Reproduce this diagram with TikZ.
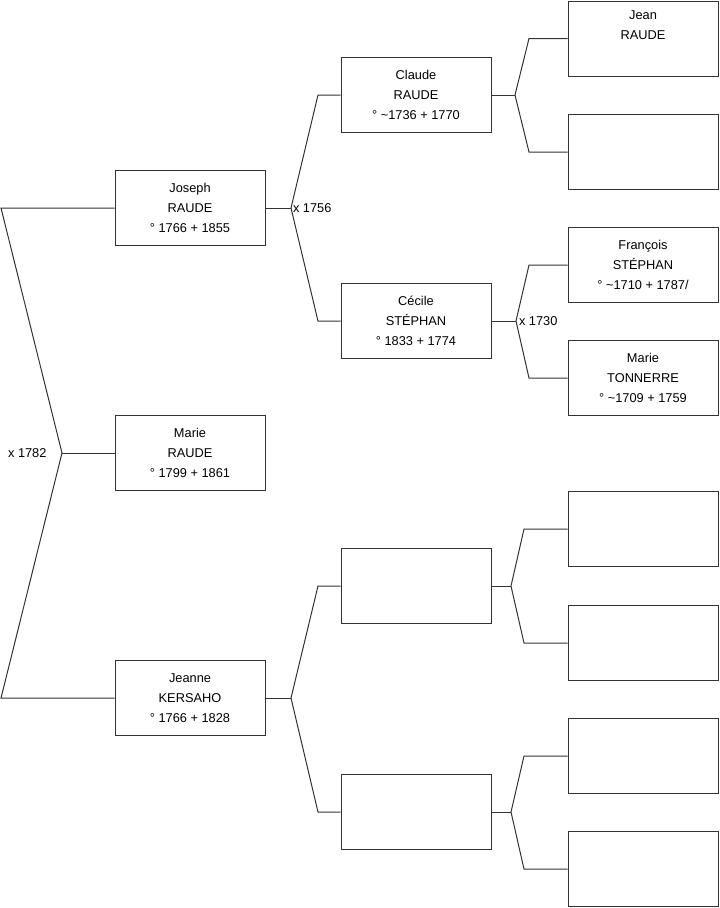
\documentclass[tikz,border=0pt]{standalone}
\usepackage{fontspec}
\setmainfont{Liberation Sans}
\begin{document}
\begin{tikzpicture}[x=0.75pt, y=-0.75pt, line width=0.75pt,
    person/.style={draw=black!80, minimum width=112.5pt, minimum height=56.25pt,
      inner sep=0pt, align=center, font=\fontsize{9.6}{15}\selectfont},
    link/.style={draw=black!80},
    union/.style={inner sep=0pt, font=\fontsize{9.6}{15}\selectfont}]
    \useasboundingbox (0,0) rectangle (719,908);
    % generation 1
    \node (joseph) [person] at (190,208) {Joseph\\RAUDE\\° 1766 + 1855};
    \node (marie) [person] at (190,453) {Marie\\RAUDE\\° 1799 + 1861};
    \node (jeanne) [person] at (190,698) {Jeanne\\KERSAHO\\° 1766 + 1828};
    % generation 2
    \node (claude) [person] at (416,95) {Claude\\RAUDE\\° \textasciitilde1736 + 1770};
    \node (cecile) [person] at (416,321) {Cécile\\STÉPHAN\\° 1833 + 1774};
    \node (jpere) [person] at (416,586) {};
    \node (jmere) [person] at (416,812) {};
    % generation 3
    \node (jean) [person] at (643,38.5) {Jean\\RAUDE\\\strut};
    \node (cmere) [person] at (643,152) {};
    \node (francois) [person] at (643,265) {François\\STÉPHAN\\° \textasciitilde1710 + 1787/};
    \node (tonnerre) [person] at (643,378) {Marie\\TONNERRE\\° \textasciitilde1709 + 1759};
    \node (jpp) [person] at (643,529) {};
    \node (jpm) [person] at (643,643) {};
    \node (jmp) [person] at (643,756) {};
    \node (jmm) [person] at (643,869) {};
    % forks
    \coordinate (v0) at (62,453);
    \coordinate (v0a) at (1,208);
    \coordinate (v0b) at (1,698);
    \coordinate (v1) at (291,208);
    \coordinate (v1a) at (318,95);
    \coordinate (v1b) at (318,321);
    \coordinate (v2) at (515,95);
    \coordinate (v2a) at (529,38.5);
    \coordinate (v2b) at (529,152);
    \coordinate (v3) at (516,321);
    \coordinate (v3a) at (529,265);
    \coordinate (v3b) at (529,378);
    \coordinate (v4) at (291,698);
    \coordinate (v4a) at (318,586);
    \coordinate (v4b) at (318,812);
    \coordinate (v5) at (511,586);
    \coordinate (v5a) at (524,529);
    \coordinate (v5b) at (524,643);
    \coordinate (v6) at (511,812);
    \coordinate (v6a) at (524,756);
    \coordinate (v6b) at (524,869);
    \draw[link] (joseph) -- (v0a) -- (v0) -- (v0b) -- (jeanne);
    \draw[link] (v0) -- (marie);
    \draw[link] (joseph) -- (v1);
    \draw[link] (claude) -- (v1a) -- (v1) -- (v1b) -- (cecile);
    \draw[link] (claude) -- (v2);
    \draw[link] (jean) -- (v2a) -- (v2) -- (v2b) -- (cmere);
    \draw[link] (cecile) -- (v3);
    \draw[link] (francois) -- (v3a) -- (v3) -- (v3b) -- (tonnerre);
    \draw[link] (jeanne) -- (v4);
    \draw[link] (jpere) -- (v4a) -- (v4) -- (v4b) -- (jmere);
    \draw[link] (jpere) -- (v5);
    \draw[link] (jpp) -- (v5a) -- (v5) -- (v5b) -- (jpm);
    \draw[link] (jmere) -- (v6);
    \draw[link] (jmp) -- (v6a) -- (v6) -- (v6b) -- (jmm);
    % marriages
    \node (m1782) [union, anchor=east] at (47,453) {x 1782};
    \node (m1756) [union, anchor=west] at (292.5,208) {x 1756};
    \node (m1730) [union, anchor=west] at (518.5,321) {x 1730};
\end{tikzpicture}
\end{document}
